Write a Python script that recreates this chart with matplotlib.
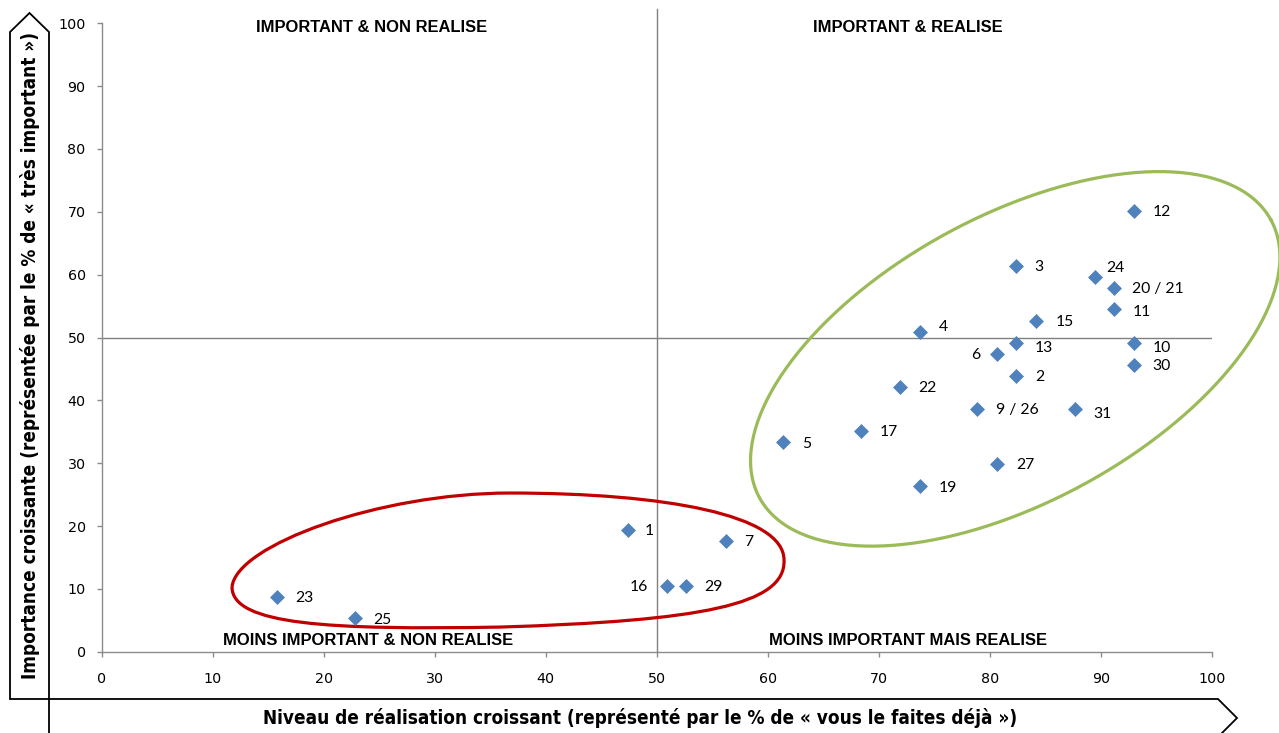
import numpy as np
import matplotlib.pyplot as plt
from matplotlib.path import Path
from matplotlib.patches import PathPatch, Polygon

# Données
labels = ['12', '3', '24', '20 / 21', '11', '15', '4', '13', '10', '6', '30', '2',
          '22', '9 / 26', '31', '17', '5', '27', '19', '1', '7', '16', '29', '23', '25']
realisation = [93.0, 82.4, 89.5, 91.2, 91.2, 84.2, 73.7, 82.4, 93.0, 80.7, 93.0, 82.4,
               71.9, 78.9, 87.7, 68.4, 61.4, 80.7, 73.7, 47.4, 56.2, 50.9, 52.6, 15.8, 22.8]
importance = [70.2, 61.4, 59.7, 57.9, 54.5, 52.7, 50.9, 49.2, 49.2, 47.4, 45.6, 43.9,
              42.2, 38.6, 38.6, 35.2, 33.3, 29.9, 26.3, 19.3, 17.6, 10.5, 10.5, 8.75, 5.3]

quadrants = ['IMPORTANT & NON REALISE', 'IMPORTANT & REALISE',
             'MOINS IMPORTANT & NON REALISE', 'MOINS IMPORTANT MAIS REALISE']

# Décalage des étiquettes (points), par défaut à droite
label_offsets = {'24': (7.9, 6.0), '4': (13.7, 3.2), '13': (13.2, -3.6), '10': (13.2, -4.3),
                 '31': (13.0, -3.8), '6': (-12.5, -0.9), '16': (-13.2, -0.7),
                 '1': (12.0, -0.7), '11': (13.5, -1.7), '15': (13.7, -1.4)}
default_offset = (13.3, -0.8)

W, H = 1279, 733
fig = plt.figure(figsize=(W / 100, H / 100), dpi=100)
ax = fig.add_axes([101.7 / W, 1 - 651.7 / H, 1110 / W, 628.4 / H])

ax.set_xlim(0, 100)
ax.set_ylim(0, 100)
ax.set_xticks(np.arange(0, 101, 10))
ax.set_yticks(np.arange(0, 101, 10))
for s in ['top', 'right']:
    ax.spines[s].set_visible(False)
for s in ['left', 'bottom']:
    ax.spines[s].set_color('#8c8c8c')
    ax.spines[s].set_linewidth(1)
ax.tick_params(axis='both', direction='out', length=3.5, width=1, color='#8c8c8c',
               labelsize=10.3, labelcolor='black')
ax.tick_params(axis='x', pad=11)
ax.tick_params(axis='y', pad=8)

# Lignes des quadrants
ax.plot([50, 50], [0, 102.2], color='#808080', lw=1, clip_on=False, zorder=1)
ax.plot([0, 100], [50, 50], color='#808080', lw=1, zorder=1)

# Points
ax.scatter(realisation, importance, marker='D', s=58, color='#4F81BD', zorder=3, linewidths=0)
for lab, x, y in zip(labels, realisation, importance):
    dx, dy = label_offsets.get(lab, default_offset)
    ax.annotate(lab, (x, y), xytext=(dx, dy), textcoords='offset points',
                ha='left' if dx > 0 else 'right', va='center',
                fontsize=11.3, family=['Lato', 'DejaVu Sans'], zorder=4)

# Titres des quadrants
qfont = dict(fontsize=11.9, fontweight='bold', family=['Liberation Sans', 'DejaVu Sans'],
             ha='center', va='center')
ax.text(24.3, 99.4, quadrants[0], **qfont)
ax.text(72.6, 99.4, quadrants[1], **qfont)
ax.text(24.0, 1.8, quadrants[2], **qfont)
ax.text(72.6, 1.8, quadrants[3], **qfont)

# Ellipse verte (dessinée en pixels puis ramenée aux unités des axes)
px_x, px_y = 11.1, 6.284
cx, cy, a, b, theta = 82.3, 46.6, 291, 143, np.radians(28.5)
t = np.linspace(0, 2 * np.pi, 300)
ex = cx + (a * np.cos(theta) * np.cos(t) - b * np.sin(theta) * np.sin(t)) / px_x
ey = cy + (a * np.sin(theta) * np.cos(t) + b * np.cos(theta) * np.sin(t)) / px_y
ax.plot(ex, ey, color='#9BBB59', lw=2.3, clip_on=False, zorder=2)

# Forme rouge
verts = [(11.74, 10.30), (12.10, 16.98), (25.07, 25.25), (36.78, 25.25),
         (50.75, 25.25), (61.47, 21.75), (61.47, 14.59),
         (61.65, 7.43), (53.90, 4.90), (35.88, 3.92),
         (20.57, 3.45), (11.74, 4.25), (11.74, 10.30)]
codes = [Path.MOVETO] + [Path.CURVE4] * 12
ax.add_patch(PathPatch(Path(verts, codes), fill=False, edgecolor='#C00000', lw=2.3,
                       clip_on=False, zorder=2))

# Flèches des titres d'axes (coordonnées figure)
def fpt(px, py):
    return (px / W, 1 - py / H)

yarrow = [fpt(10, 699), fpt(10, 32), fpt(29.5, 13), fpt(49, 32), fpt(49, 699)]
xarrow = [fpt(49, 699), fpt(1218, 699), fpt(1237, 718), fpt(1218, 737), fpt(49, 737)]
for pts in (yarrow, xarrow):
    fig.patches.append(Polygon(pts, closed=True, fill=False, edgecolor='black', lw=1.3,
                               transform=fig.transFigure, figure=fig))

lfont = dict(fontsize=13.6, fontweight='bold', fontstretch='condensed',
             family=['Liberation Sans Narrow', 'DejaVu Sans Condensed', 'DejaVu Sans'],
             ha='center', va='center')
fig.text(30 / W, 1 - 355 / H, 'Importance croissante (représentée par le % de « très important »)',
         rotation=90, **lfont)
fig.text(640 / W, 1 - 718 / H, 'Niveau de réalisation croissant (représenté par le % de « vous le faites déjà »)',
         **lfont)

fig.savefig('out.png', dpi=100)
